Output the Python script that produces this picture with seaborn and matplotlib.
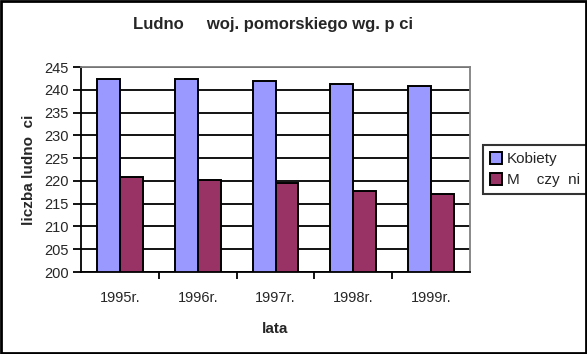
import matplotlib
matplotlib.use("Agg")
import matplotlib.pyplot as plt
import seaborn as sns
import pandas as pd
from matplotlib.patches import Rectangle

years = ["1995r.", "1996r.", "1997r.", "1998r.", "1999r."]
kobiety = [242.3, 242.3, 242.0, 241.2, 240.9]
mezczyzni = [220.8, 220.2, 219.5, 217.7, 217.1]
series_names = ["Kobiety", "M    czy  ni"]
title = "Ludno     woj. pomorskiego wg. p ci"
ylabel = "liczba ludno  ci"
xlabel = "lata"
yticks = [200, 205, 210, 215, 220, 225, 230, 235, 240, 245]

df = pd.DataFrame({
    "rok": years * 2,
    "wartosc": kobiety + mezczyzni,
    "seria": [series_names[0]] * len(years) + [series_names[1]] * len(years),
})

sns.set_theme(style="white")
plt.rcParams["font.family"] = ["Liberation Sans", "DejaVu Sans"]

fig = plt.figure(figsize=(5.87, 3.54), dpi=100)
ax = fig.add_axes([81 / 587, 1 - 272 / 354, (470 - 81) / 587, (272 - 67) / 354])

sns.barplot(data=df, x="rok", y="wartosc", hue="seria", hue_order=series_names,
            palette=["#9999FF", "#993366"], width=0.59, edgecolor="black",
            linewidth=1.4, saturation=1, ax=ax, legend=True)

ax.set_ylim(200, 245)
ax.set_xlim(-0.5, 4.5)
ax.set_yticks(yticks)
ax.yaxis.grid(True, color="black", linewidth=1.3)
ax.set_axisbelow(True)
for s in ["top", "right"]:
    ax.spines[s].set_color("#808080")
    ax.spines[s].set_linewidth(1.3)
for s in ["left", "bottom"]:
    ax.spines[s].set_color("black")
    ax.spines[s].set_linewidth(1.3)

ax.tick_params(axis="y", which="major", length=6, width=1.3, color="black",
               direction="out", left=True, labelsize=10.5, pad=3)
ax.tick_params(axis="x", which="major", length=0, labelsize=10.5, pad=14)
ax.set_xticks([0.5, 1.5, 2.5, 3.5], minor=True)
ax.tick_params(axis="x", which="minor", length=5, width=1.3, color="black",
               direction="out", bottom=True)

ax.set_xlabel(xlabel, fontsize=11, fontweight="bold", labelpad=12)
ax.set_ylabel(ylabel, fontsize=11, fontweight="bold", labelpad=6)
fig.text(133 / 587, 1 - 25 / 354, title, ha="left", va="center",
         fontsize=12, fontweight="bold")

leg = ax.legend(loc="upper left", bbox_to_anchor=(483 / 587, 1 - 145 / 354),
                bbox_transform=fig.transFigure, frameon=True, fancybox=False,
                fontsize=11, handlelength=0.8, handleheight=0.8,
                handletextpad=0.3, borderpad=0.45, labelspacing=0.45,
                borderaxespad=0)
leg.get_frame().set_edgecolor("black")
leg.get_frame().set_linewidth(1.5)

fig.patches.append(Rectangle((0.002, 0.003), 0.996, 0.994, transform=fig.transFigure,
                             fill=False, edgecolor="black", linewidth=2))

fig.savefig("out.png", dpi=100)
